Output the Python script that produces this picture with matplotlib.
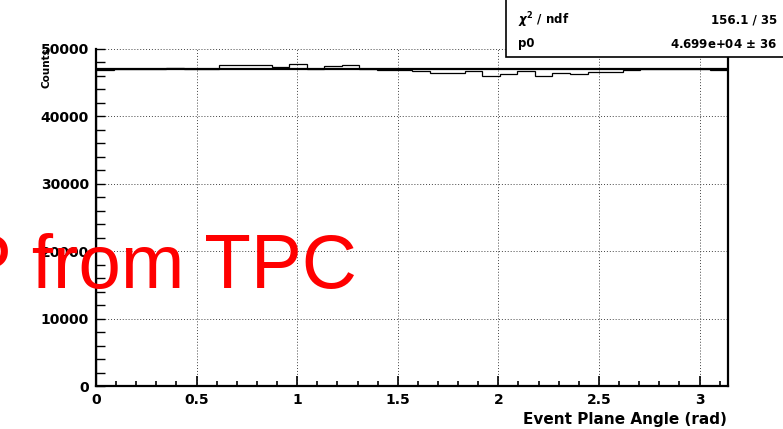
import numpy as np
import matplotlib
matplotlib.use("Agg")
import matplotlib.pyplot as plt
from matplotlib.ticker import MultipleLocator

# histogram contents, 36 bins from 0 to pi
counts = [46950, 46980, 46960, 47100, 47250, 47050, 46960, 47560, 47560,
          47560, 47350, 47760, 46970, 47480, 47580, 46990, 46950, 46930,
          46800, 46500, 46460, 46750, 46000, 46250, 46700, 46040, 46400,
          46300, 46650, 46650, 46950, 47100, 46980, 46990, 46960, 46950]
edges = np.linspace(0, np.pi, len(counts) + 1)
fit_p0 = 46990
stats_rows = [("$\\chi^2$ / ndf", "156.1 / 35"),
              ("p0", "4.699e+04 $\\pm$ 36")]
xticks = [0, 0.5, 1, 1.5, 2, 2.5, 3]
xtick_labels = ["0", "0.5", "1", "1.5", "2", "2.5", "3"]
yticks = [0, 10000, 20000, 30000, 40000, 50000]

plt.rcParams['font.family'] = ['DejaVu Sans']
plt.rcParams['font.weight'] = 'bold'

W, H = 783, 429
fig = plt.figure(figsize=(W / 100, H / 100), dpi=100)
ax = fig.add_axes([96 / W, 1 - 386 / H, 632 / W, 337 / H])

ax.stairs(counts, edges, color='black', lw=0.9, zorder=3)
ax.plot([0, np.pi], [fit_p0, fit_p0], color='black', lw=1.6, zorder=4)

ax.set_xlim(0, np.pi)
ax.set_ylim(0, 50000)
ax.set_xticks(xticks)
ax.set_xticklabels(xtick_labels)
ax.xaxis.set_minor_locator(MultipleLocator(0.1))
ax.set_yticks(yticks)
ax.set_yticklabels([str(v) for v in yticks])
ax.yaxis.set_minor_locator(MultipleLocator(2000))

ax.tick_params(axis='x', which='major', direction='in', length=7, width=1.2,
               labelsize=10, pad=5)
ax.tick_params(axis='x', which='minor', direction='in', length=3.5, width=1.2)
ax.tick_params(axis='y', which='both', direction='in', length=6.5, width=1.0,
               labelsize=10, pad=5)
ax.tick_params(top=False, right=False)

ax.grid(True, which='major', color='#444444', lw=0.7, linestyle=(0, (1, 2)))
ax.set_axisbelow(True)

for side in ['left', 'bottom', 'right']:
    ax.spines[side].set_linewidth(1.6)
ax.spines['top'].set_visible(False)

ax.set_xlabel('Event Plane Angle (rad)', fontsize=11, fontweight='bold', loc='right')
ax.xaxis.set_label_coords(0.998, -0.078)
ax.set_ylabel('Counts', fontsize=7.5, fontweight='bold', loc='top')
ax.yaxis.set_label_coords(-0.07, 1.006)

# stats box
fig.patches.append(plt.Rectangle((506 / W, 1 - 57 / H), 290 / W, 70 / H,
                                 transform=fig.transFigure, facecolor='white',
                                 edgecolor='black', lw=1.2, zorder=5))
for i, (name, val) in enumerate(stats_rows):
    y = 1 - (20 + 24 * i) / H
    fig.text(518 / W, y, name, fontsize=8.5, fontweight='bold', va='center',
             ha='left', zorder=6)
    fig.text(777 / W, y, val, fontsize=8.5, fontweight='bold', va='center',
             ha='right', zorder=6)

# red overlay text
fig.text(-39 / W, 1 - 288 / H, 'P from TPC', color='#ff0000', fontsize=55,
         family='Liberation Sans', fontweight='normal', ha='left',
         va='baseline', zorder=10)

fig.savefig('out.png', dpi=100)
